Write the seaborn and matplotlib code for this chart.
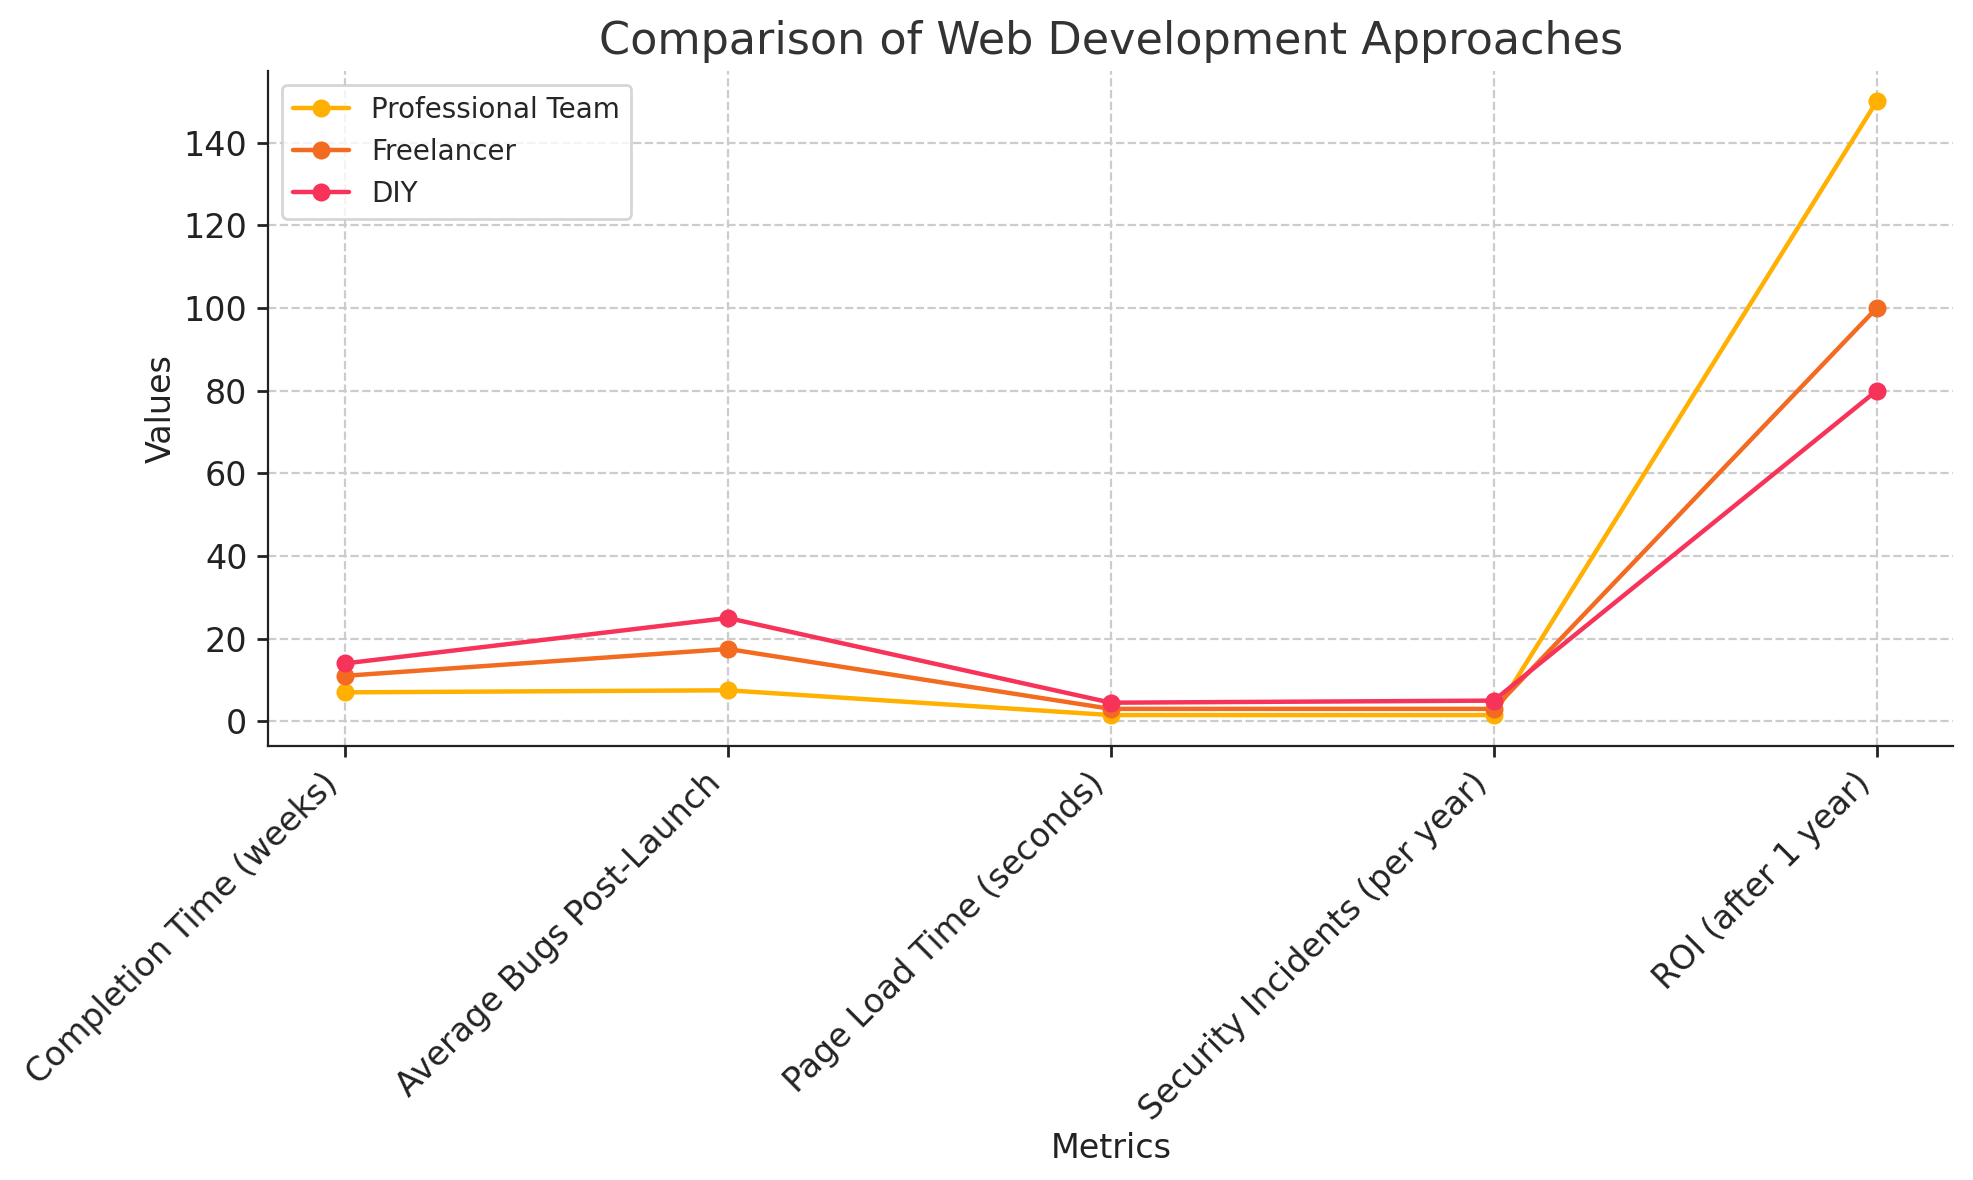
import pandas as pd
import matplotlib.pyplot as plt
import seaborn as sns

metrics = ['Completion Time (weeks)', 'Average Bugs Post-Launch',
           'Page Load Time (seconds)', 'Security Incidents (per year)',
           'ROI (after 1 year)']
professional = [7, 7.5, 1.5, 1.5, 150]
freelancer = [11, 17.5, 3, 3, 100]
diy = [14, 25, 4.5, 5, 80]
approaches = ['Professional Team', 'Freelancer', 'DIY']
colors = ['#FFB000', '#F26B21', '#F7335A']

rows = []
for name, vals in zip(approaches, [professional, freelancer, diy]):
    for i, v in enumerate(vals):
        rows.append({'Metrics': i, 'Values': v, 'Approach': name})
df = pd.DataFrame(rows)

sns.set_style('whitegrid', {'grid.linestyle': '--', 'grid.color': '#cccccc',
                            'axes.edgecolor': '#222222'})
plt.rcParams['font.family'] = ['DejaVu Sans']

fig, ax = plt.subplots(figsize=(9.865, 5.9), dpi=200)
sns.lineplot(data=df, x='Metrics', y='Values', hue='Approach',
             palette=colors, marker='o', markersize=6.5, markeredgewidth=0,
             linewidth=1.6, ax=ax)
sns.despine(ax=ax)
ax.set_xticks(range(len(metrics)))
ax.set_xticklabels(metrics, rotation=45, ha='right', fontsize=12)
ax.tick_params(axis='y', labelsize=12)
ax.tick_params(axis='both', length=4, width=1, color='#222222',
               labelcolor='#222222', bottom=True, left=True)
ax.set_xlabel('Metrics', fontsize=12, color='#222222', labelpad=2)
ax.set_ylabel('Values', fontsize=12, color='#222222', labelpad=2)
ax.set_title('Comparison of Web Development Approaches', fontsize=16, color='#333333')
ax.legend(loc='upper left', fontsize=10, title=None, frameon=True)
fig.subplots_adjust(left=0.136, right=0.99, top=0.94, bottom=0.368)
fig.savefig('out.png', dpi=200)
